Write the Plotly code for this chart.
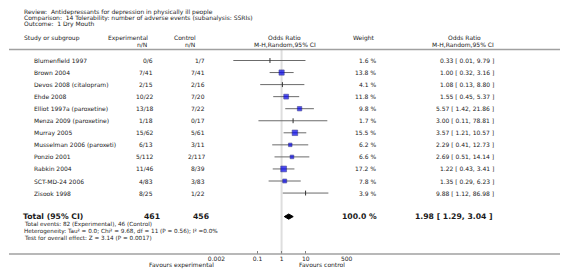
import math
import plotly.graph_objects as go

# ---------------- data ----------------
studies = ["Blumenfield 1997", "Brown 2004", "Devos 2008 (citalopram)", "Ehde 2008",
           "Elliot 1997a (paroxetine)", "Menza 2009 (paroxetine)", "Murray 2005",
           "Musselman 2006 (paroxeti)", "Ponzio 2001", "Rabkin 2004", "SCT-MD-24 2006",
           "Zisook 1998"]
exp_events = [0, 7, 2, 10, 13, 1, 15, 6, 5, 11, 4, 8]
exp_total = [6, 41, 15, 22, 18, 18, 62, 13, 112, 46, 83, 25]
ctl_events = [1, 7, 2, 7, 7, 0, 5, 3, 2, 8, 3, 1]
ctl_total = [7, 41, 16, 20, 22, 17, 61, 11, 117, 39, 83, 22]
weights = [1.6, 13.8, 4.1, 11.8, 9.8, 1.7, 15.5, 6.2, 6.6, 17.2, 7.8, 3.9]
odds = [0.33, 1.00, 1.08, 1.55, 5.57, 3.00, 3.57, 2.29, 2.69, 1.22, 1.35, 9.88]
ci_low = [0.01, 0.32, 0.13, 0.45, 1.42, 0.11, 1.21, 0.41, 0.51, 0.43, 0.29, 1.12]
ci_high = [9.79, 3.16, 8.80, 5.37, 21.86, 78.81, 10.57, 12.73, 14.14, 3.41, 6.23, 86.98]

total_exp_n = 461
total_ctl_n = 456
total_weight = 100.0
total_or = 1.98
total_low = 1.29
total_high = 3.04

tick_vals = [0.002, 0.1, 1, 10, 500]
tick_text = ["0.002", "0.1", "1", "10", "500"]

header_lines = [
    "Review:  Antidepressants for depression in physically ill people",
    "Comparison:  14 Tolerability: number of adverse events (subanalysis: SSRIs)",
    "Outcome:  1 Dry Mouth",
]
summary_lines = [
    "Total events: 82 (Experimental), 46 (Control)",
    "Heterogeneity: Tau² = 0.0; Chi² = 9.68, df = 11 (P = 0.56); I² =0.0%",
    "Test for overall effect: Z = 3.14 (P = 0.0017)",
]

# ---------------- layout helpers ----------------
W, H = 566, 277
AX_Y = 254          # pixel y of the axis line
FONT = "DejaVu Sans"
TXT = "#1a1a1a"

row_y0, row_dy = 60.5, 12.05
rows_y = [row_y0 + i * row_dy for i in range(len(studies))]
total_y = 216.6

def px(x):
    return x / W

def py(y):
    return 1 - y / H

annotations = []

def text(x, y, s, anchor="left", size=6, bold=False):
    if bold:
        s = "<b>" + s + "</b>"
    annotations.append(dict(x=px(x), y=py(y), xref="paper", yref="paper", text=s,
                            showarrow=False, xanchor=anchor, yanchor="middle",
                            font=dict(family=FONT, size=size, color=TXT)))

# header
for s, y in zip(header_lines, [11.5, 17.5, 23.8]):
    text(13, y, s)
text(13, 37.5, "Study or subgroup")
text(122, 37.5, "Experimental", "center")
text(144, 44.5, "n/N", "right")
text(181, 37.5, "Control", "center")
text(193, 44.5, "n/N", "right")
text(283, 37.5, "Odds Ratio", "center")
text(283, 44.5, "M-H,Random,95% CI", "center")
text(365, 37.5, "Weight", "center")
text(468, 37.5, "Odds Ratio", "center")
text(466, 44.5, "M-H,Random,95% CI", "center")

for i, y in enumerate(rows_y):
    text(24, y, studies[i])
    text(150, y, f"{exp_events[i]}/{exp_total[i]}", "right")
    text(203, y, f"{ctl_events[i]}/{ctl_total[i]}", "right")
    text(379, y, f"{weights[i]:.1f} %", "right")
    text(500, y, f"{odds[i]:.2f} [ {ci_low[i]:.2f}, {ci_high[i]:.2f} ]", "right")

text(12, total_y, "Total (95% CI)", size=7.7, bold=True)
text(157, total_y, str(total_exp_n), "right", size=7.7, bold=True)
text(207, total_y, str(total_ctl_n), "right", size=7.7, bold=True)
text(380, total_y, f"{total_weight:.1f} %", "right", size=7.7, bold=True)
text(499, total_y, f"{total_or:.2f} [ {total_low:.2f}, {total_high:.2f} ]", "right", size=7.7, bold=True)
for s, y in zip(summary_lines, [224.4, 231.0, 237.6]):
    text(13, y, s, size=5.7)

text(213, 264.5, "Favours experimental", "right")
text(296, 264.5, "Favours control", "left")

# ---------------- figure ----------------
fig = go.Figure()

# CI lines
for i, y in enumerate(rows_y):
    fig.add_trace(go.Scatter(x=[ci_low[i], ci_high[i]], y=[y, y], mode="lines",
                             line=dict(color="#6b6b6b", width=1), hoverinfo="skip",
                             showlegend=False))

# point estimates
big = [i for i in range(len(studies)) if weights[i] >= 5]
small = [i for i in range(len(studies)) if weights[i] < 5]
fig.add_trace(go.Scatter(
    x=[odds[i] for i in big], y=[rows_y[i] for i in big], mode="markers",
    marker=dict(symbol="square", color="#0000ee",
                size=[1.35 * math.sqrt(weights[i]) + 0.2 for i in big],
                line=dict(color="#000066", width=0.6)),
    showlegend=False, hoverinfo="skip"))
fig.add_trace(go.Scatter(
    x=[odds[i] for i in small], y=[rows_y[i] for i in small], mode="markers",
    marker=dict(symbol="line-ns", size=3.5, line=dict(color="#333333", width=1)),
    showlegend=False, hoverinfo="skip"))

# total diamond
fig.add_trace(go.Scatter(
    x=[total_low, total_or, total_high, total_or, total_low],
    y=[total_y, total_y - 2.6, total_y, total_y + 2.6, total_y],
    mode="lines", fill="toself", fillcolor="#000000",
    line=dict(color="#000000", width=1), showlegend=False, hoverinfo="skip"))

shapes = [
    # header separator
    dict(type="line", xref="paper", yref="paper", x0=0, x1=1, y0=py(49.5), y1=py(49.5),
         line=dict(color="#a0a0a0", width=1.5)),
    # axis line
    dict(type="line", xref="paper", yref="paper", x0=0, x1=1, y0=py(AX_Y), y1=py(AX_Y),
         line=dict(color="#a0a0a0", width=1.5)),
    # line of no effect
    dict(type="line", xref="x", yref="y", x0=1, x1=1, y0=50, y1=AX_Y,
         line=dict(color="#dedede", width=2), layer="below"),
]

lo, hi = math.log10(0.002), math.log10(500)
fig.update_layout(
    width=W, height=H, margin=dict(l=0, r=0, t=0, b=0),
    paper_bgcolor="white", plot_bgcolor="white",
    annotations=annotations, shapes=shapes,
    xaxis=dict(type="log", range=[lo, hi], domain=[213.1 / W, 346.9 / W],
               tickvals=tick_vals, ticktext=tick_text, ticks="inside", ticklen=3,
               tickcolor="#808080", tickwidth=1, showgrid=False, zeroline=False,
               showline=False, tickfont=dict(family=FONT, size=6, color=TXT)),
    yaxis=dict(range=[AX_Y, 0], domain=[1 - AX_Y / H, 1], visible=False),
)

fig.write_html("out.html", config={"displayModeBar": False},
               post_script="document.body.style.margin='0';document.body.style.padding='0';")
